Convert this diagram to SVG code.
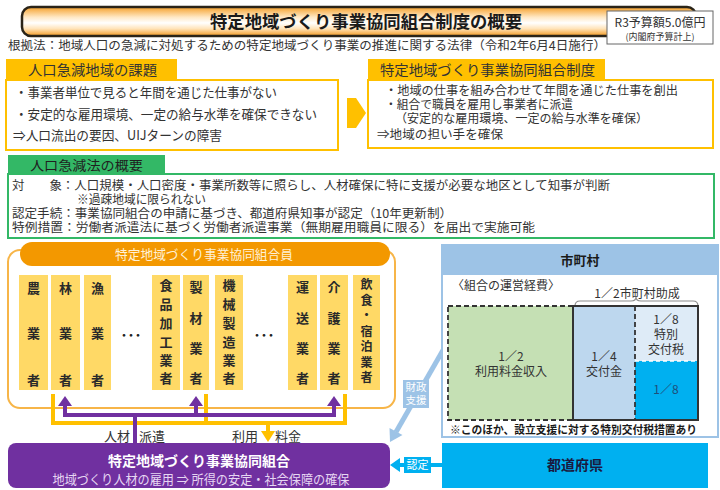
<svg xmlns="http://www.w3.org/2000/svg" width="720" height="490" viewBox="0 0 720 490">
<defs>
<linearGradient id="gTitle" x1="0" y1="0" x2="0" y2="1">
<stop offset="0" stop-color="#F5A02A"/><stop offset="0.35" stop-color="#FFE8C4"/><stop offset="0.55" stop-color="#FFFFFF"/><stop offset="0.75" stop-color="#FFE3B8"/><stop offset="1" stop-color="#F39A22"/>
</linearGradient>
</defs>
<style>
text{font-family:"Noto Sans CJK JP","Noto Sans",sans-serif;fill:#333}
.b{font-weight:bold}
.col rect{fill:#FFD966}
.col text{font-size:13px;font-weight:bold;fill:#2a2a2a;text-anchor:middle}
.t13{font-size:13px}
.t12{font-size:12px}
.mid{text-anchor:middle}
.dots{font-size:14px;font-weight:bold;fill:#222;text-anchor:middle}
</style>
<rect width="720" height="490" fill="#FFFFFF"/>

<g id="title">
<rect x="22" y="7" width="674" height="29" rx="9" fill="url(#gTitle)" stroke="#2a2418" stroke-width="2.5"/>
<text x="366" y="28" class="b mid" style="font-size:17.5px;fill:#1a1a1a" textLength="312" lengthAdjust="spacingAndGlyphs">特定地域づくり事業協同組合制度の概要</text>
</g>
<g id="budget">
<rect x="607" y="11" width="106" height="33" fill="#FFFFFF" stroke="#666" stroke-width="1"/>
<text x="660" y="27" class="mid" style="font-size:12px">R3予算額5.0億円</text>
<text x="660" y="40" class="mid" style="font-size:9px">(内閣府予算計上)</text>
</g>
<text x="8" y="50" class="t12" textLength="598" lengthAdjust="spacingAndGlyphs">根拠法：地域人口の急減に対処するための特定地域づくり事業の推進に関する法律（令和2年6月4日施行）</text>

<g id="issues">
<rect x="6" y="80" width="332" height="70" fill="#FFFFFF" stroke="#FFC000" stroke-width="2"/>
<rect x="6" y="59" width="171" height="21" fill="#FFC000"/>
<text x="28" y="75" style="font-size:14px" textLength="129" lengthAdjust="spacingAndGlyphs">人口急減地域の課題</text>
<text x="15" y="97" class="t13" textLength="262" lengthAdjust="spacingAndGlyphs">・事業者単位で見ると年間を通じた仕事がない</text>
<text x="15" y="119" class="t13" textLength="302" lengthAdjust="spacingAndGlyphs">・安定的な雇用環境、一定の給与水準を確保できない</text>
<text x="13" y="140" class="t13" textLength="209" lengthAdjust="spacingAndGlyphs">⇒人口流出の要因、UIJターンの障害</text>
</g>
<polygon id="arrowRight" points="347,98 356,98 366,113 356,128 347,128" fill="#FFC000"/>

<g id="system">
<rect x="368" y="80" width="345" height="68" fill="#FFFFFF" stroke="#FFC000" stroke-width="2"/>
<rect x="368" y="59" width="237" height="21" fill="#FFC000"/>
<text x="380" y="75" style="font-size:14px" textLength="215" lengthAdjust="spacingAndGlyphs">特定地域づくり事業協同組合制度</text>
<text x="385" y="95" class="t12" textLength="293" lengthAdjust="spacingAndGlyphs">・地域の仕事を組み合わせて年間を通じた仕事を創出</text>
<text x="385" y="109" class="t12" textLength="188" lengthAdjust="spacingAndGlyphs">・組合で職員を雇用し事業者に派遣</text>
<text x="395" y="123" class="t12" textLength="253" lengthAdjust="spacingAndGlyphs">（安定的な雇用環境、一定の給与水準を確保）</text>
<text x="377" y="139" class="t12" textLength="126" lengthAdjust="spacingAndGlyphs">⇒地域の担い手を確保</text>
</g>

<g id="law">
<rect x="8" y="174" width="706" height="64" fill="#FFFFFF" stroke="#33B866" stroke-width="2"/>
<rect x="8" y="155" width="157" height="19" fill="#33B866"/>
<text x="30" y="170" style="font-size:13px;fill:#1f1f1f" textLength="113" lengthAdjust="spacingAndGlyphs">人口急減法の概要</text>
<text x="12" y="190" class="t12" textLength="598" lengthAdjust="spacingAndGlyphs">対　　象：人口規模・人口密度・事業所数等に照らし、人材確保に特に支援が必要な地区として知事が判断</text>
<text x="77" y="204" class="t12" textLength="129" lengthAdjust="spacingAndGlyphs">※過疎地域に限られない</text>
<text x="12" y="218" class="t12" textLength="440" lengthAdjust="spacingAndGlyphs">認定手続：事業協同組合の申請に基づき、都道府県知事が認定（10年更新制）</text>
<text x="12" y="232" class="t12" textLength="523" lengthAdjust="spacingAndGlyphs">特例措置：労働者派遣法に基づく労働者派遣事業（無期雇用職員に限る）を届出で実施可能</text>
</g>

<g id="members">
<rect x="8" y="250" width="387" height="158" rx="12" fill="#FFFFFF" stroke="#F7B548" stroke-width="2"/>
<rect x="20" y="242" width="370" height="24" rx="12" fill="#F39800"/>
<text x="204" y="259" class="mid" style="font-size:13px;fill:#FFF1D6" textLength="178" lengthAdjust="spacingAndGlyphs">特定地域づくり事業協同組合員</text>
<g class="col" id="c1"><rect x="19" y="275" width="29" height="115"/><text><tspan x="33.5" y="293">農</tspan><tspan x="33.5" y="338">業</tspan><tspan x="33.5" y="385">者</tspan></text></g>
<g class="col" id="c2"><rect x="51" y="275" width="29" height="115"/><text><tspan x="65.5" y="293">林</tspan><tspan x="65.5" y="338">業</tspan><tspan x="65.5" y="385">者</tspan></text></g>
<g class="col" id="c3"><rect x="84" y="275" width="27" height="115"/><text><tspan x="97.5" y="293">漁</tspan><tspan x="97.5" y="338">業</tspan><tspan x="97.5" y="385">者</tspan></text></g>
<text x="131" y="340" class="dots">･･･</text>
<g class="col" id="c4"><rect x="152" y="275" width="28" height="115"/><text><tspan x="166" y="290">食</tspan><tspan x="166" y="309">品</tspan><tspan x="166" y="328">加</tspan><tspan x="166" y="347">工</tspan><tspan x="166" y="365">業</tspan><tspan x="166" y="383">者</tspan></text></g>
<g class="col" id="c5"><rect x="183" y="275" width="26" height="115"/><text><tspan x="196" y="292">製</tspan><tspan x="196" y="323">材</tspan><tspan x="196" y="353">業</tspan><tspan x="196" y="383">者</tspan></text></g>
<g class="col" id="c6"><rect x="215" y="275" width="28" height="115"/><text><tspan x="229" y="290">機</tspan><tspan x="229" y="309">械</tspan><tspan x="229" y="328">製</tspan><tspan x="229" y="347">造</tspan><tspan x="229" y="365">業</tspan><tspan x="229" y="383">者</tspan></text></g>
<text x="264" y="340" class="dots">･･･</text>
<g class="col" id="c7"><rect x="288" y="275" width="29" height="115"/><text><tspan x="302.5" y="292">運</tspan><tspan x="302.5" y="323">送</tspan><tspan x="302.5" y="353">業</tspan><tspan x="302.5" y="383">者</tspan></text></g>
<g class="col" id="c8"><rect x="320" y="275" width="28" height="115"/><text><tspan x="334" y="292">介</tspan><tspan x="334" y="323">護</tspan><tspan x="334" y="353">業</tspan><tspan x="334" y="383">者</tspan></text></g>
<g class="col" id="c9"><rect x="353" y="275" width="27" height="115"/><text style="font-size:12px"><tspan x="366.5" y="289">飲</tspan><tspan x="366.5" y="304.5">食</tspan><tspan x="366.5" y="320">・</tspan><tspan x="366.5" y="335.5">宿</tspan><tspan x="366.5" y="351">泊</tspan><tspan x="366.5" y="366.5">業</tspan><tspan x="366.5" y="382">者</tspan></text></g>
</g>

<g id="connectors">
<path d="M53,394 V423 H345 V394 M206,394 V423" fill="none" stroke="#FFC000" stroke-width="4"/>
<path d="M268,423 V432" fill="none" stroke="#FFC000" stroke-width="4"/>
<polygon points="261,431 275,431 268,442" fill="#FFC000"/>
<path d="M65,406 V415 H334 V406 M196,415 V406 M135,415 V443" fill="none" stroke="#7030A0" stroke-width="4"/>
<polygon points="58,406 72,406 65,396" fill="#7030A0"/>
<polygon points="189,406 203,406 196,396" fill="#7030A0"/>
<polygon points="327,406 341,406 334,396" fill="#7030A0"/>
<text x="130" y="441" class="t13" text-anchor="end">人材</text>
<text x="139" y="441" class="t13">派遣</text>
<text x="258" y="441" class="t13" text-anchor="end">利用</text>
<text x="275" y="441" class="t13">料金</text>
<path d="M450,338 L396,432" fill="none" stroke="#9DC3E6" stroke-width="5"/>
<polygon points="390,442 389.5,428 402.5,435" fill="#9DC3E6"/>
<rect x="403" y="380" width="26" height="28" fill="#9DC3E6"/>
<text x="416" y="391" class="mid" style="font-size:10.5px;fill:#FFFFFF">財政</text>
<text x="416" y="404" class="mid" style="font-size:10.5px;fill:#FFFFFF">支援</text>
<path d="M442,465 H398" fill="none" stroke="#00B0F0" stroke-width="4"/>
<polygon points="390,465 400,458 400,472" fill="#00B0F0"/>
<rect x="404" y="457" width="27" height="16" fill="#00B0F0"/>
<text x="417.5" y="469" class="mid" style="font-size:11px;fill:#FFFFFF">認定</text>
</g>

<g id="union">
<rect x="8" y="443" width="382" height="45" rx="8" fill="#7030A0"/>
<text x="199" y="466" class="b mid" style="font-size:14px;fill:#FFFFFF">特定地域づくり事業協同組合</text>
<text x="201" y="484" class="mid" style="font-size:13px;fill:#E6D6F2" textLength="297" lengthAdjust="spacingAndGlyphs">地域づくり人材の雇用 ⇒ 所得の安定・社会保障の確保</text>
</g>

<g id="municipality">
<rect x="442" y="245" width="276" height="192" fill="#FFFFFF" stroke="#9DC3E6" stroke-width="2"/>
<rect x="442" y="245" width="276" height="30" fill="#9DC3E6"/>
<text x="580" y="265" class="b mid" style="font-size:13px;fill:#1a1a1a">市町村</text>
<text x="452" y="290" class="t12">〈組合の運営経費〉</text>
<text x="637" y="298" class="mid t12">1／2市町村助成</text>
<path d="M575,306 Q575,301 580,301 H631 Q636,301 636,297 Q636,301 641,301 H693 Q698,301 698,306" fill="none" stroke="#8c8c8c" stroke-width="1.2"/>
<rect x="448" y="306" width="125" height="114" fill="#C5E0B4" stroke="#333" stroke-width="1.8" stroke-dasharray="5,3"/>
<rect x="573" y="306" width="62" height="114" fill="#BDD7EE"/>
<rect x="635" y="306" width="63" height="55" fill="#DEEBF7"/>
<rect x="635" y="361" width="63" height="59" fill="#00B0F0"/>
<path d="M635,361 H698" stroke="#FFFFFF" stroke-width="1.5" stroke-dasharray="4,3"/>
<path d="M635,306 V420" stroke="#333" stroke-width="1.8" stroke-dasharray="5,3"/>
<path d="M573,306 H698 V420 H573 Z" fill="none" stroke="#333" stroke-width="2"/>
<text x="511" y="361" class="mid t12">1／2</text>
<text x="511" y="376" class="mid t12">利用料金収入</text>
<text x="604" y="361" class="mid t12">1／4</text>
<text x="604" y="376" class="mid t12">交付金</text>
<text x="666" y="324" class="mid t12">1／8</text>
<text x="666" y="339" class="mid t12">特別</text>
<text x="666" y="354" class="mid t12">交付税</text>
<text x="666" y="394" class="mid t12" style="fill:#1F4E79">1／8</text>
<text x="450" y="434" class="b" style="font-size:11px;fill:#1a1a1a" textLength="247" lengthAdjust="spacingAndGlyphs">※このほか、設立支援に対する特別交付税措置あり</text>
</g>

<g id="prefecture">
<rect x="442" y="443" width="266" height="45" fill="#00B0F0"/>
<text x="575" y="470" class="b mid" style="font-size:14px;fill:#1a1a40">都道府県</text>
</g>
</svg>
